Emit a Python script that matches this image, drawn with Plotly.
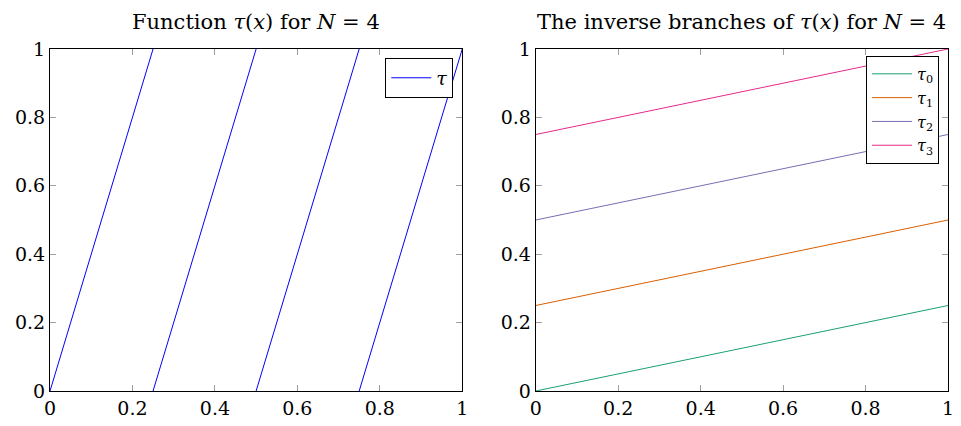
import plotly.graph_objects as go

# Left: tau(x) = 4x mod 1, one segment per branch
tau_x = [0, 0.25, None, 0.25, 0.5, None, 0.5, 0.75, None, 0.75, 1.0]
tau_y = [0, 1, None, 0, 1, None, 0, 1, None, 0, 1]

# Right: inverse branches tau_k(x) = (x + k)/4
branch_x = [0, 1]
branch_sub = ["0", "1", "2", "3"]
branch_y = [[0, 0.25], [0.25, 0.5], [0.5, 0.75], [0.75, 1.0]]
branch_colors = ["#1b9e77", "#d95f02", "#7570b3", "#e7298a"]

tick_vals = [0, 0.2, 0.4, 0.6, 0.8, 1]
tick_text = ["0", "0.2", "0.4", "0.6", "0.8", "1"]

FONT = "DejaVu Serif"

fig = go.Figure()
fig.add_trace(go.Scatter(x=tau_x, y=tau_y, mode="lines", name="<i>τ</i>",
                         line=dict(color="#0000ff", width=1), xaxis="x", yaxis="y",
                         legend="legend"))
for sub, ys, c in zip(branch_sub, branch_y, branch_colors):
    fig.add_trace(go.Scatter(x=branch_x, y=ys, mode="lines",
                             name="<i>τ</i><sub>" + sub + "</sub>",
                             line=dict(color=c, width=1), xaxis="x2", yaxis="y2",
                             legend="legend2"))

axis_common = dict(range=[0, 1], tickvals=tick_vals, ticktext=tick_text,
                   ticks="inside", ticklen=6, tickcolor="#a0a0a0", tickwidth=1,
                   showline=True, linecolor="black", linewidth=1, mirror="ticks",
                   showgrid=False, zeroline=False,
                   tickfont=dict(family=FONT, size=19, color="black"))

d1 = 415 / 904
d2 = 489 / 904
fig.update_layout(
    width=961, height=426,
    margin=dict(l=50, r=7, t=49, b=32),
    paper_bgcolor="white", plot_bgcolor="white",
    font=dict(family=FONT, size=18, color="black"),
    xaxis=dict(domain=[0, d1], anchor="y", **axis_common),
    yaxis=dict(domain=[0, 1], anchor="x", **axis_common),
    xaxis2=dict(domain=[d2, 1], anchor="y2", **axis_common),
    yaxis2=dict(domain=[0, 1], anchor="x2", **axis_common),
    legend=dict(x=(456 - 50) / 904, y=(394 - 58) / 345, xanchor="right", yanchor="top",
                bordercolor="black", borderwidth=1, bgcolor="white",
                font=dict(family=FONT, size=19), tracegroupgap=0,
                itemwidth=40),
    legend2=dict(x=1 - 9 / 904, y=(394 - 56) / 345, xanchor="right", yanchor="top",
                 bordercolor="black", borderwidth=1, bgcolor="white",
                 font=dict(family=FONT, size=16), tracegroupgap=0,
                 itemwidth=40),
    showlegend=True,
    annotations=[
        dict(text="Function <i>τ</i>(<i>x</i>) for <i>N</i> = 4", x=d1 / 2, y=1,
             xref="paper", yref="paper", xanchor="center", yanchor="bottom", yshift=13,
             showarrow=False, font=dict(family=FONT, size=21)),
        dict(text="The inverse branches of <i>τ</i>(<i>x</i>) for <i>N</i> = 4", x=(d2 + 1) / 2, y=1,
             xref="paper", yref="paper", xanchor="center", yanchor="bottom", yshift=13,
             showarrow=False, font=dict(family=FONT, size=21)),
    ],
)

fig.write_html("out.html")
